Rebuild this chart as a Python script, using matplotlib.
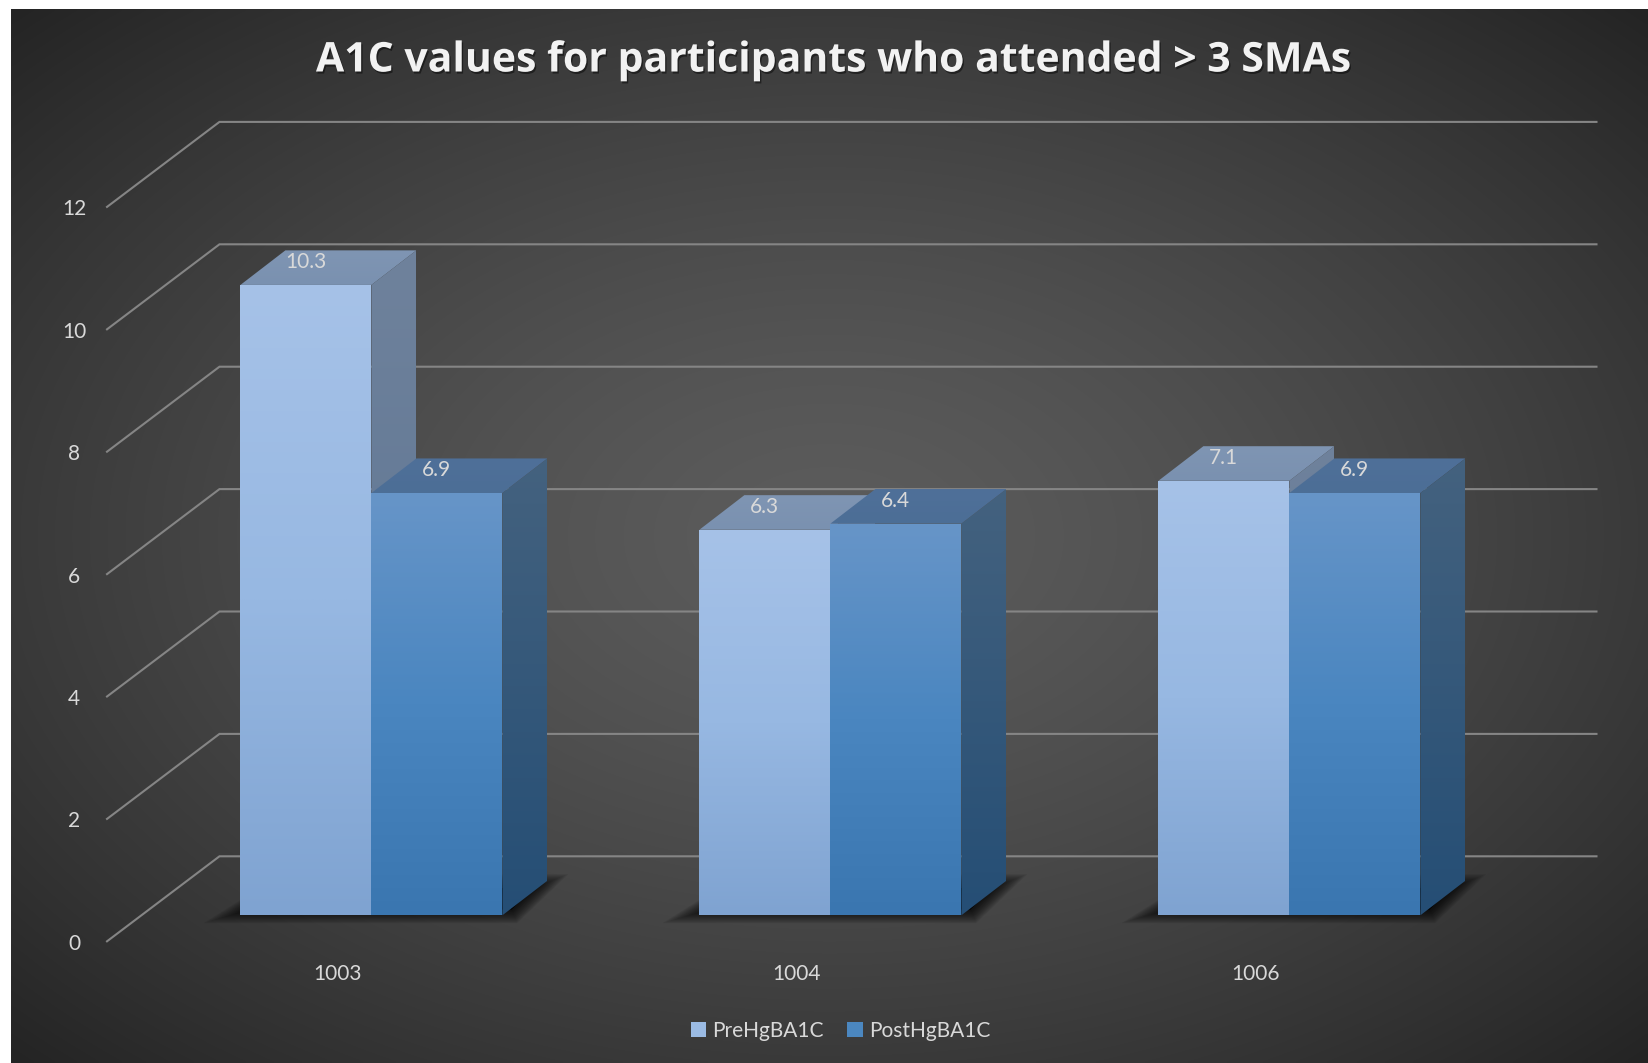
import numpy as np
import matplotlib
matplotlib.use('Agg')
import matplotlib.pyplot as plt
import matplotlib.patheffects as pe
from matplotlib.colors import to_rgb
from matplotlib.patches import Polygon, Patch

plt.rcParams['font.family'] = ['Lato', 'DejaVu Sans']

# Valores del grafico
participants = ['1003', '1004', '1006']
pre_values = [10.3, 6.3, 7.1]
post_values = [6.9, 6.4, 6.9]
y_ticks = [0, 2, 4, 6, 8, 10, 12]
series_names = ['PreHgBA1C', 'PostHgBA1C']
title = 'A1C values for participants who attended > 3 SMAs'

# Geometria de la perspectiva, en unidades de datos
bar_w = 0.2854
depth_x = 0.098
depth_y = 0.565
wall_x0, wall_x1 = -0.331, 2.669
wall_dy = 0.964
front_x, front_dy = -0.576, -0.425

fig = plt.figure(figsize=(16.48, 10.63), dpi=100, facecolor='white')
ax = fig.add_axes([0, 0, 1, 1])
ax.axis('off')
xlim = (-371.4 / 459, (1648 - 371.4) / 459)
ylim = ((915.3 - 1063) / 61.2, 915.3 / 61.2)


def gradient_face(verts, top, bottom, z):
    # cara con degradado vertical recortada al poligono
    verts = np.array(verts)
    c0, c1 = np.array(to_rgb(top)), np.array(to_rgb(bottom))
    t = np.linspace(0, 1, 256)[:, None, None]
    img = c0[None, None, :] * (1 - t) + c1[None, None, :] * t
    ext = (verts[:, 0].min(), verts[:, 0].max(), verts[:, 1].min(), verts[:, 1].max())
    im = ax.imshow(img, extent=ext, origin='upper', aspect='auto', zorder=z, interpolation='bilinear')
    poly = Polygon(verts, closed=True, transform=ax.transData, fc='none', ec='none')
    ax.add_patch(poly)
    im.set_clip_path(poly)


def draw_bar(x, v, front, side, top, z):
    fx0, fx1 = x, x + bar_w
    gradient_face([(fx0, v), (fx0 + depth_x, v + depth_y), (fx1 + depth_x, v + depth_y), (fx1, v)],
                  top[0], top[1], z)
    gradient_face([(fx1, 0), (fx1 + depth_x, depth_y), (fx1 + depth_x, v + depth_y), (fx1, v)],
                  side[0], side[1], z + 0.1)
    # degradado de tres paradas para el frente
    gradient_face([(fx0, v / 2), (fx1, v / 2), (fx1, v), (fx0, v)], front[0], front[1], z + 0.2)
    gradient_face([(fx0, 0), (fx1, 0), (fx1, v / 2), (fx0, v / 2)], front[1], front[2], z + 0.2)


# Fondo radial del panel
ny, nx = 300, 450
yy, xx = np.mgrid[0:1:ny * 1j, 0:1:nx * 1j]
d = np.sqrt(((xx - 0.5) / 0.5) ** 2 + ((yy - 0.5) / 0.5) ** 2) / np.sqrt(2)
shade = (92 - 56 * d ** 1.4) / 255
ax.imshow(np.dstack([shade] * 3), extent=(xlim[0] + 11 / 459, xlim[1], ylim[0], ylim[1] - 9 / 61.2),
          aspect='auto', zorder=0, interpolation='bilinear')

# Rejilla: pared del fondo y lineas del suelo hacia el frente
for v in y_ticks:
    ax.plot([front_x, wall_x0, wall_x1], [v + front_dy, v + wall_dy, v + wall_dy],
            color='#858585', lw=1.5, zorder=1, solid_joinstyle='miter')
    ax.text(-0.648, v + front_dy - 0.04, str(v), color='#d9d9d9', fontsize=15, ha='center', va='center', zorder=10)

# Sombras y barras
for i, name in enumerate(participants):
    left = i - bar_w
    right = i + bar_w
    shadow = [(left + 0.025, 0.1), (left + depth_x, depth_y - 0.12),
              (right + depth_x - 0.03, depth_y - 0.12), (right + 0.02, 0.1)]
    for lw in np.linspace(20, 1, 14):
        ax.add_patch(Polygon(shadow, closed=True, fc='black', ec='black', lw=lw, alpha=0.08,
                             zorder=2, joinstyle='miter'))
    draw_bar(left, pre_values[i], ('#a6c2e8', '#97b8e2', '#7fa3d1'), ('#6f829c', '#587190'),
             ('#7f95b3', '#7a91b0'), 3)
    draw_bar(i, post_values[i], ('#6795c8', '#4a86c0', '#3a76b0'), ('#44627f', '#254e75'),
             ('#4f7099', '#4c6e96'), 4)
    ax.text(left + bar_w / 2, pre_values[i] + 0.37, f'{pre_values[i]}', color='#d9d9d9', fontsize=15,
            ha='center', va='center', zorder=10)
    ax.text(i + bar_w / 2, post_values[i] + 0.37, f'{post_values[i]}', color='#d9d9d9', fontsize=15,
            ha='center', va='center', zorder=10)
    ax.text(i - 0.074, -0.965, name, color='#d9d9d9', fontsize=15, ha='center', va='center', zorder=10)

ax.set_xlim(*xlim)
ax.set_ylim(*ylim)

ax.text(0.5065, 1 - 61 / 1063, title, transform=ax.transAxes, color='#f2f2f2', fontsize=29.5,
        family='Open Sans', fontweight='bold', ha='center', va='center', zorder=10,
        path_effects=[pe.withSimplePatchShadow(offset=(1, -1.5), shadow_rgbFace='black', alpha=0.45)])

handles = [Patch(fc='#9bbbe4', ec='none', label=series_names[0]),
           Patch(fc='#4b87c0', ec='none', label=series_names[1])]
fig.legend(handles=handles, ncol=2, frameon=False, loc='center', bbox_to_anchor=(0.51, 0.03),
           fontsize=15, labelcolor='#d9d9d9', handlelength=0.75, handleheight=0.75,
           handletextpad=0.3, columnspacing=1.1)

fig.savefig('out.png', dpi=100, facecolor='white')
